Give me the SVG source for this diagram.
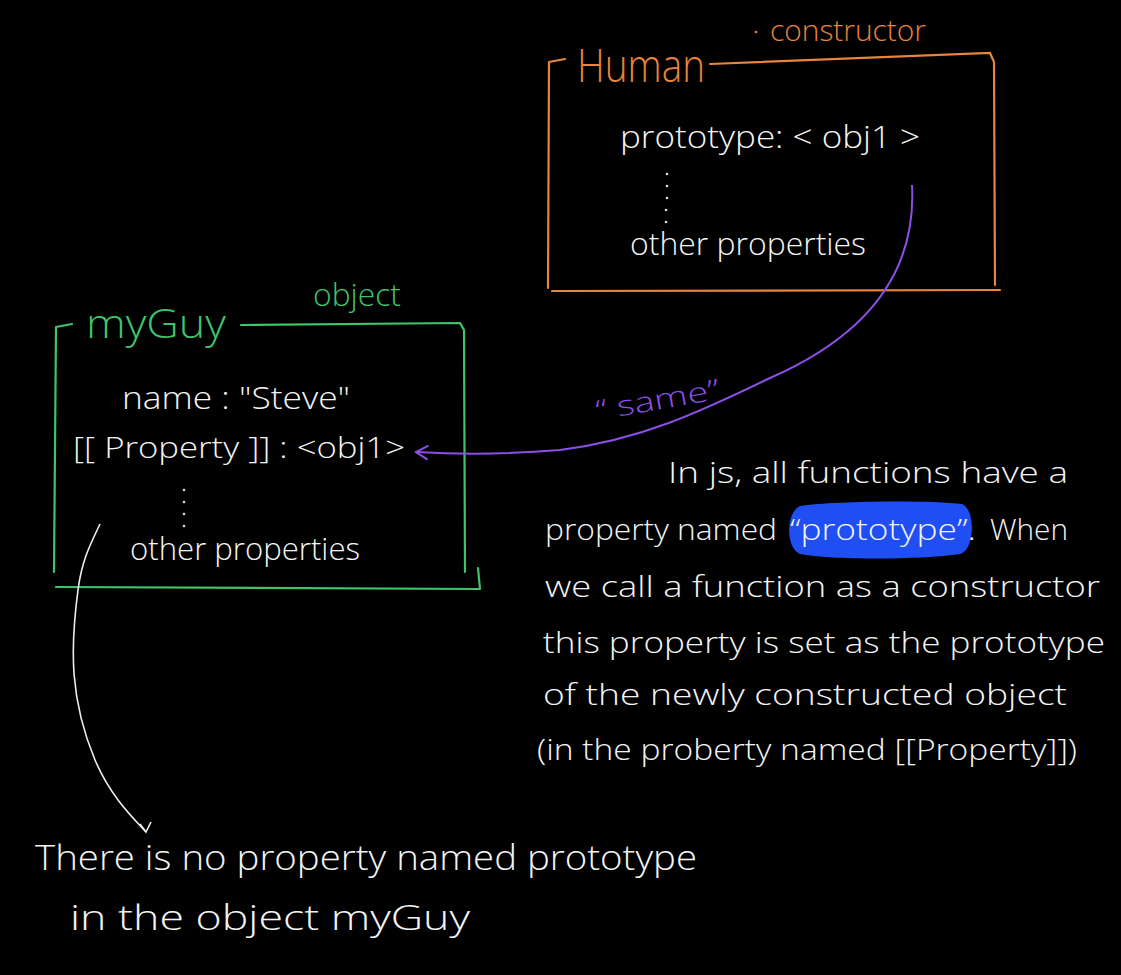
<svg xmlns="http://www.w3.org/2000/svg" width="1121" height="975" viewBox="0 0 1121 975">
<defs>
<style>
.t{font-family:"Open Sans","Liberation Sans",sans-serif;font-weight:300;fill:#f4f4f4}
.o{stroke:#e8843c;stroke-width:2.2;fill:none;stroke-linecap:round}
.g{stroke:#3fc46a;stroke-width:2.2;fill:none;stroke-linecap:round}
.ot{font-family:"Open Sans","Liberation Sans",sans-serif;font-weight:300;fill:#e8843c}
.gt{font-family:"Open Sans","Liberation Sans",sans-serif;font-weight:300;fill:#3fc46a}
.dot{fill:#ddd}
</style>
<marker id="pa" viewBox="0 0 20 20" refX="15" refY="10" markerWidth="20" markerHeight="20" markerUnits="userSpaceOnUse" orient="auto">
<path d="M3,3 L15,10 L3,17" fill="none" stroke="#8b4fe6" stroke-width="2"/>
</marker>
<marker id="wa" viewBox="0 0 20 20" refX="10" refY="18" markerWidth="20" markerHeight="20" markerUnits="userSpaceOnUse" orient="0">
<path d="M4,10 L10,18 L15,8" fill="none" stroke="#eee" stroke-width="1.6"/>
</marker>
</defs>
<rect width="1121" height="975" fill="#000"/>

<g id="human">
<path class="o" d="M549,62 L565,59 M549,62 L548,288 M552,291 L1000,290 M710,64 L990,53 L994,62 L995,285"/>
<text class="ot" x="577" y="82" font-size="46" textLength="128" lengthAdjust="spacingAndGlyphs">Human</text>
<circle cx="756" cy="32" r="1.3" fill="#e8843c"/>
<text class="ot" x="770" y="41" font-size="30" textLength="156" lengthAdjust="spacingAndGlyphs">constructor</text>
<text class="t" x="620" y="148" font-size="32" textLength="300" lengthAdjust="spacingAndGlyphs">prototype: &lt; obj1 &gt;</text>
<circle class="dot" cx="667" cy="174" r="1.3"/><circle class="dot" cx="667" cy="186" r="1.3"/><circle class="dot" cx="667" cy="198" r="1.3"/><circle class="dot" cx="666" cy="210" r="1.3"/><circle class="dot" cx="666" cy="222" r="1.3"/>
<text class="t" x="630" y="255" font-size="32" textLength="236" lengthAdjust="spacingAndGlyphs">other properties</text>
</g>

<g id="myGuy">
<path class="g" d="M56,327 L72,324 M56,327 L54,572 M56,587 L480,589 M478,568 L480,589 M241,325 L460,323 L464,330 L465,572"/>
<text class="gt" x="86" y="338" font-size="40" textLength="140" lengthAdjust="spacingAndGlyphs">myGuy</text>
<text class="gt" x="313" y="306" font-size="32" textLength="88" lengthAdjust="spacingAndGlyphs">object</text>
<text class="t" x="122" y="409" font-size="32" textLength="228" lengthAdjust="spacingAndGlyphs">name : "Steve"</text>
<text class="t" x="73" y="458" font-size="30" textLength="332" lengthAdjust="spacingAndGlyphs">[[ Property ]]  : &lt;obj1&gt;</text>
<circle class="dot" cx="184" cy="490" r="1.3"/><circle class="dot" cx="184" cy="502" r="1.3"/><circle class="dot" cx="184" cy="514" r="1.3"/><circle class="dot" cx="184" cy="526" r="1.3"/>
<text class="t" x="130" y="560" font-size="32" textLength="230" lengthAdjust="spacingAndGlyphs">other properties</text>
</g>

<g id="note">
<path d="M800,506 C830,501 930,500 962,504 C976,510 975,550 960,554 C920,560 830,560 800,554 C785,548 786,512 800,506 Z" fill="#1f4ff2"/>
<text class="t" font-size="30">
<tspan x="668" y="483" textLength="400" lengthAdjust="spacingAndGlyphs">In js, all functions have a</tspan>
<tspan x="545" y="540" textLength="232" lengthAdjust="spacingAndGlyphs">property named</tspan>
<tspan x="790" y="540" textLength="186" lengthAdjust="spacingAndGlyphs">“prototype”.</tspan>
<tspan x="990" y="540" textLength="78" lengthAdjust="spacingAndGlyphs">When</tspan>
<tspan x="545" y="597" textLength="555" lengthAdjust="spacingAndGlyphs">we call a function as a constructor</tspan>
<tspan x="543" y="653" textLength="562" lengthAdjust="spacingAndGlyphs">this property is set as the prototype</tspan>
<tspan x="543" y="705" textLength="524" lengthAdjust="spacingAndGlyphs">of the newly constructed object</tspan>
<tspan x="537" y="760" textLength="540" lengthAdjust="spacingAndGlyphs">(in the proberty named [[Property]])</tspan>
</text>
</g>

<g id="bottom-note">
<text class="t" font-size="34">
<tspan x="35" y="870" textLength="662" lengthAdjust="spacingAndGlyphs">There is no property named prototype</tspan>
<tspan x="70" y="930" textLength="400" lengthAdjust="spacingAndGlyphs">in the object myGuy</tspan>
</text>
</g>

<g id="connectors">
<path d="M912,185 C916,260 880,330 770,378 C700,412 640,440 560,450 C500,455 450,454 416,452" fill="none" stroke="#8b4fe6" stroke-width="2" marker-end="url(#pa)"/>
<text x="595" y="410" font-family="Open Sans, Liberation Sans, sans-serif" font-weight="300" font-size="28" fill="#8b4fe6" transform="rotate(-10 655 400)" textLength="125" lengthAdjust="spacingAndGlyphs">“  same”</text>
<path d="M100,524 C90,545 82,560 78,590 C70,650 70,700 95,760 C110,795 130,815 146,832" fill="none" stroke="#eee" stroke-width="1.6" marker-end="url(#wa)"/>
</g>
</svg>
